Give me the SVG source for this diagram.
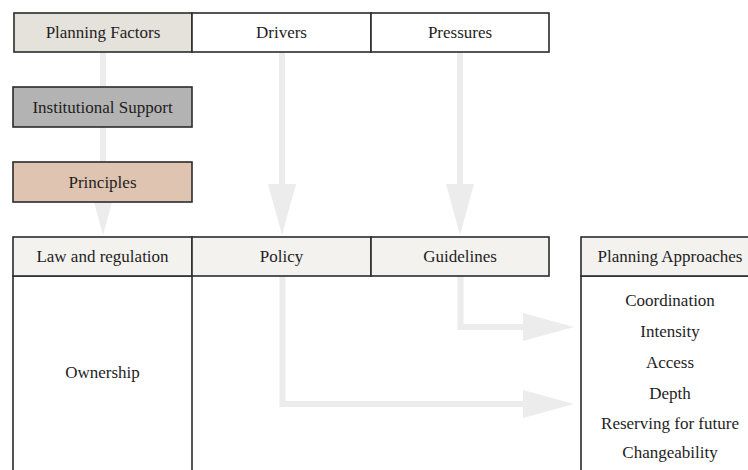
<svg xmlns="http://www.w3.org/2000/svg" width="748" height="470" viewBox="0 0 748 470">
<style>
.box{stroke:#2b2b2b;stroke-width:1.6}
.t{font-family:'Liberation Serif','DejaVu Serif',serif;font-size:17px;fill:#1e1e1e;text-anchor:middle;dominant-baseline:central}
.arr{fill:none;stroke:#ececec;stroke-width:6}
</style>
<defs>
<marker id="ah" markerUnits="userSpaceOnUse" viewBox="0 0 51 28" markerWidth="51" markerHeight="28" refX="11" refY="14" orient="auto">
<path d="M0,0 L51,14 L0,28 z" fill="#ececec"/>
</marker>
</defs>
<rect width="748" height="470" fill="#ffffff"/>
<g id="connectors">
<path class="arr" d="M103,52 V195" marker-end="url(#ah)"/>
<path class="arr" d="M282,52 V195" marker-end="url(#ah)"/>
<path class="arr" d="M460,52 V195" marker-end="url(#ah)"/>
<path class="arr" d="M460.5,276 V327 H534" marker-end="url(#ah)"/>
<path class="arr" d="M282.5,276 V404 H534" marker-end="url(#ah)"/>
</g>
<g font-family="Liberation Serif, DejaVu Serif, serif">
<g id="planning-factors"><rect class="box" x="14" y="13" width="178" height="39" fill="#e5e1db"/><text class="t" x="103" y="32.5">Planning Factors</text></g>
<g id="drivers"><rect class="box" x="192" y="13" width="179" height="39" fill="#ffffff"/><text class="t" x="281.5" y="32.5">Drivers</text></g>
<g id="pressures"><rect class="box" x="371" y="13" width="178" height="39" fill="#ffffff"/><text class="t" x="460" y="32.5">Pressures</text></g>
<g id="institutional-support"><rect class="box" x="13" y="87" width="179" height="40" fill="#b3b3b3"/><text class="t" x="102.5" y="107">Institutional Support</text></g>
<g id="principles"><rect class="box" x="13" y="162" width="179" height="40" fill="#dfc4b1"/><text class="t" x="102.5" y="182">Principles</text></g>
<g id="law-and-regulation"><rect class="box" x="13" y="276" width="179" height="210" fill="#ffffff"/><rect class="box" x="13" y="237" width="179" height="39" fill="#f3f2ef"/><text class="t" x="102.5" y="256">Law and regulation</text><text class="t" x="102.5" y="372">Ownership</text></g>
<g id="policy"><rect class="box" x="192" y="237" width="179" height="39" fill="#f3f2ef"/><text class="t" x="281.5" y="256.5">Policy</text></g>
<g id="guidelines"><rect class="box" x="371" y="237" width="178" height="39" fill="#f3f2ef"/><text class="t" x="460" y="256.5">Guidelines</text></g>
<g id="planning-approaches"><rect class="box" x="581" y="276" width="190" height="210" fill="#ffffff"/><rect class="box" x="581" y="237" width="190" height="39" fill="#f3f2ef"/><text class="t" x="670" y="256.5">Planning Approaches</text>
<text class="t" x="670" y="300.5">Coordination</text>
<text class="t" x="670" y="331.5">Intensity</text>
<text class="t" x="670" y="362.5">Access</text>
<text class="t" x="670" y="393">Depth</text>
<text class="t" x="670" y="423">Reserving for future</text>
<text class="t" x="670" y="452">Changeability</text></g>
</g>
</svg>
